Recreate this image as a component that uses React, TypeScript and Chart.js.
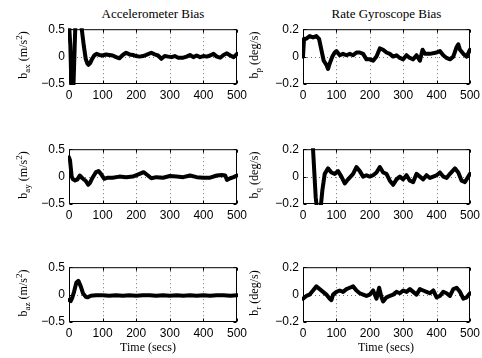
import React, { useEffect, useRef } from "react";
import { Chart, registerables } from "chart.js";

Chart.register(...registerables);

// ---- tick values ----
const xTickValues = [0, 100, 200, 300, 400, 500];
const accelTickValues = [-0.5, 0, 0.5];
const gyroTickValues = [-0.2, 0, 0.2];

// ---- text ----
const accelTitle = "Accelerometer Bias";
const gyroTitle = "Rate Gyroscope Bias";
const xAxisLabel = "Time (secs)";

// ---- accelerometer bias b_ax ----
const axTime = [0, 4, 7, 10, 14, 18, 21, 30, 36, 40, 44, 50, 55, 58, 63, 68, 75, 82, 90, 100, 110, 120, 130, 140, 150, 160, 170, 180, 190, 200, 210, 220, 230, 245, 255, 265, 275, 285, 295, 305, 315, 325, 340, 350, 360, 370, 380, 390, 400, 410, 420, 430, 440, 450, 460, 470, 480, 490, 500];
const axBias = [0.6, 0.2, -0.5, -1.0, -0.4, 0.4, 1.0, 1.2, 0.6, 0.4, 0.2, -0.05, -0.13, -0.15, -0.12, -0.05, 0.02, 0.05, 0.03, 0.02, 0.04, 0.03, 0.02, -0.01, -0.03, 0.03, 0.07, 0.04, 0.03, 0.01, 0.0, 0.01, 0.03, 0.07, 0.04, 0.02, -0.04, 0.01, 0.0, -0.01, 0.01, -0.02, -0.02, 0.0, 0.03, -0.01, 0.02, -0.01, 0.01, 0.0, 0.02, 0.05, 0.0, -0.02, 0.03, 0.06, 0.02, -0.01, 0.05];

// ---- accelerometer bias b_ay ----
const ayTime = [0, 3, 8, 12, 18, 25, 32, 40, 50, 57, 62, 70, 80, 88, 95, 105, 115, 130, 150, 170, 190, 210, 222, 235, 245, 260, 280, 300, 320, 340, 360, 380, 400, 420, 440, 455, 465, 470, 480, 490, 500];
const ayBias = [0.35, 0.3, 0.0, -0.05, -0.07, -0.05, 0.02, -0.03, -0.08, -0.15, -0.12, -0.02, 0.08, 0.1, 0.05, -0.04, -0.02, -0.02, 0.0, -0.01, 0.0, 0.05, 0.08, 0.02, -0.03, -0.01, -0.02, 0.01, 0.0, -0.01, 0.02, -0.01, -0.02, -0.02, 0.02, 0.03, 0.02, -0.06, -0.03, -0.01, 0.02];

// ---- accelerometer bias b_az ----
const azTime = [0, 5, 10, 15, 22, 28, 35, 42, 50, 55, 65, 80, 100, 120, 140, 160, 180, 200, 220, 240, 260, 280, 300, 320, 340, 360, 380, 400, 420, 440, 460, 480, 500];
const azBias = [-0.1, -0.12, -0.05, 0.05, 0.22, 0.25, 0.15, 0.02, -0.04, -0.05, -0.02, -0.01, -0.01, -0.02, -0.01, -0.02, -0.01, -0.02, -0.01, -0.01, -0.02, -0.01, -0.02, -0.01, -0.02, -0.01, -0.02, -0.01, -0.02, -0.01, -0.01, -0.02, -0.01];

// ---- rate gyroscope bias b_p ----
const bpTime = [0, 3, 10, 20, 30, 40, 48, 55, 62, 70, 75, 80, 88, 95, 100, 110, 120, 130, 140, 150, 160, 170, 180, 190, 200, 210, 220, 230, 240, 250, 260, 270, 280, 290, 300, 310, 320, 330, 340, 350, 358, 365, 380, 400, 410, 420, 430, 440, 450, 460, 465, 470, 480, 490, 500];
const bpBias = [0.0, 0.13, 0.13, 0.15, 0.14, 0.15, 0.13, 0.05, -0.03, -0.06, -0.09, -0.05, 0.0, 0.03, 0.04, 0.01, 0.02, 0.01, 0.02, 0.01, 0.03, 0.03, 0.02, -0.02, -0.02, -0.03, 0.0, 0.06, 0.05, 0.03, 0.02, 0.0, 0.01, -0.01, -0.02, 0.01, -0.01, -0.02, 0.01, -0.03, 0.05, 0.02, 0.02, 0.03, 0.04, 0.01, -0.01, -0.02, 0.0, 0.07, 0.09, 0.05, 0.02, 0.0, 0.05];

// ---- rate gyroscope bias b_q ----
const bqTime = [0, 20, 30, 38, 45, 52, 58, 65, 75, 85, 95, 105, 115, 125, 135, 150, 160, 170, 180, 190, 200, 210, 220, 230, 240, 250, 260, 270, 280, 290, 300, 310, 320, 330, 340, 350, 360, 370, 380, 390, 400, 410, 420, 430, 440, 455, 465, 475, 485, 495, 500];
const bqBias = [0.8, 0.5, 0.2, -0.15, -0.3, -0.25, -0.1, 0.02, 0.06, 0.03, 0.02, 0.04, 0.0, -0.05, -0.02, 0.02, 0.07, 0.04, 0.0, 0.01, 0.0, 0.01, 0.03, 0.07, 0.03, 0.02, -0.03, -0.06, -0.02, 0.0, -0.02, 0.01, -0.03, -0.04, 0.02, 0.0, -0.02, 0.01, -0.01, 0.0, 0.01, 0.03, 0.0, -0.01, 0.02, 0.06, 0.03, -0.03, -0.04, 0.0, 0.02];

// ---- rate gyroscope bias b_r ----
const brTime = [0, 10, 20, 30, 40, 50, 60, 70, 80, 85, 90, 100, 110, 120, 130, 140, 150, 160, 170, 180, 190, 200, 210, 220, 228, 235, 240, 250, 260, 270, 280, 290, 300, 310, 320, 330, 340, 350, 360, 370, 380, 390, 400, 410, 420, 430, 440, 450, 460, 470, 480, 490, 500];
const brBias = [-0.03, -0.01, 0.0, 0.03, 0.06, 0.04, 0.02, 0.0, -0.03, -0.04, 0.0, 0.02, 0.03, 0.02, 0.04, 0.05, 0.06, 0.03, 0.01, 0.0, -0.01, 0.0, 0.03, -0.03, 0.05, -0.02, -0.05, -0.02, -0.01, 0.0, 0.02, 0.01, 0.03, 0.02, 0.04, 0.02, 0.0, 0.04, 0.03, 0.02, 0.01, 0.03, -0.02, -0.01, 0.02, 0.01, -0.01, 0.04, 0.05, 0.02, -0.03, -0.02, 0.01];

// ---- layout constants ----
const COL_X = [[69, 237], [303, 470]];
const ROW_Y = [[26, 84], [146, 204], [264, 322]];
const PAD_T = 8;
const PAD_R = 14;
const Y_W = 40;
const X_H = 24;

const tickFont = { family: "'Liberation Sans', Arial, sans-serif", size: 12 };
const serif = "'Liberation Serif', 'Times New Roman', serif";

function fmt(v: number) {
  if (v === 0) return "0";
  if (v < 0) return "\u2212" + String(Math.abs(v));
  return String(v);
}

const framePlugin = {
  id: "matlabFrame",
  beforeDatasetsDraw(chart: any) {
    const { ctx, chartArea: a, scales } = chart;
    ctx.save();
    ctx.strokeStyle = "#777";
    ctx.lineWidth = 1;
    ctx.setLineDash([1, 3]);
    const xs = scales.x, ys = scales.y;
    xTickValues.forEach((v) => {
      if (v === xs.min || v === xs.max) return;
      const px = Math.round(xs.getPixelForValue(v)) + 0.5;
      ctx.beginPath();
      ctx.moveTo(px, a.top);
      ctx.lineTo(px, a.bottom);
      ctx.stroke();
    });
    ys.ticks.forEach((t: any) => {
      if (t.value === ys.min || t.value === ys.max) return;
      const py = Math.round(ys.getPixelForValue(t.value)) + 0.5;
      ctx.beginPath();
      ctx.moveTo(a.left, py);
      ctx.lineTo(a.right, py);
      ctx.stroke();
    });
    ctx.restore();
  },
  afterDatasetsDraw(chart: any) {
    const { ctx, chartArea: a, scales } = chart;
    ctx.save();
    ctx.strokeStyle = "#000";
    ctx.lineWidth = 1;
    ctx.setLineDash([]);
    const l = a.left + 0.5, r = a.right - 0.5, t = a.top + 0.5, b = a.bottom - 0.5;
    ctx.strokeRect(l, t, r - l, b - t);
    const xs = scales.x, ys = scales.y;
    const len = 3;
    ctx.beginPath();
    xTickValues.forEach((v) => {
      const px = Math.round(xs.getPixelForValue(v)) + 0.5;
      ctx.moveTo(px, b);
      ctx.lineTo(px, b - len);
      ctx.moveTo(px, t);
      ctx.lineTo(px, t + len);
    });
    ys.ticks.forEach((tk: any) => {
      const py = Math.round(ys.getPixelForValue(tk.value)) + 0.5;
      ctx.moveTo(l, py);
      ctx.lineTo(l + len, py);
      ctx.moveTo(r, py);
      ctx.lineTo(r - len, py);
    });
    ctx.stroke();
    ctx.restore();
  },
};

type PlotProps = {
  time: number[];
  values: number[];
  yTicks: number[];
  col: number;
  row: number;
};

function Plot({ time, values, yTicks, col, row }: PlotProps) {
  const ref = useRef<HTMLCanvasElement | null>(null);
  const [x0, x1] = COL_X[col];
  const [y0, y1] = ROW_Y[row];
  const w = x1 - x0;
  const h = y1 - y0;
  const cw = Y_W + w + PAD_R;
  const ch = PAD_T + h + X_H;

  useEffect(() => {
    if (!ref.current) return;
    const chart = new Chart(ref.current, {
      type: "line",
      data: {
        datasets: [
          {
            data: time.map((t, i) => ({ x: t, y: values[i] })),
            borderColor: "#000",
            borderWidth: 4,
            pointRadius: 0,
            tension: 0,
            fill: false,
            clip: 1,
            borderJoinStyle: "round",
            borderCapStyle: "round",
          } as any,
        ],
      },
      options: {
        responsive: false,
        animation: false,
        devicePixelRatio: 1,
        layout: { padding: { top: PAD_T, right: PAD_R, left: 0, bottom: 0 } },
        plugins: { legend: { display: false }, tooltip: { enabled: false }, title: { display: false } },
        scales: {
          x: {
            type: "linear",
            min: 0,
            max: 500,
            afterBuildTicks: (s: any) => {
              s.ticks = xTickValues.map((v) => ({ value: v }));
            },
            afterFit: (s: any) => {
              s.height = X_H;
            },
            grid: { display: false, drawTicks: false },
            border: { display: false },
            ticks: { font: tickFont, color: "#000", padding: 4, maxRotation: 0, autoSkip: false, callback: (v: any) => fmt(Number(v)) },
          },
          y: {
            type: "linear",
            min: yTicks[0],
            max: yTicks[yTicks.length - 1],
            afterBuildTicks: (s: any) => {
              s.ticks = yTicks.map((v) => ({ value: v }));
            },
            afterFit: (s: any) => {
              s.width = Y_W;
            },
            grid: { display: false, drawTicks: false },
            border: { display: false },
            ticks: { font: tickFont, color: "#000", padding: 4, autoSkip: false, callback: (v: any) => fmt(Number(v)) },
          },
        },
      } as any,
      plugins: [framePlugin],
    });
    return () => chart.destroy();
  }, []);

  return (
    <canvas
      ref={ref}
      width={cw}
      height={ch}
      style={{ position: "absolute", left: x0 - Y_W, top: y0 - PAD_T, width: cw, height: ch }}
    />
  );
}

function YLabel({ x, y, main, sub }: { x: number; y: number; main: string; sub: string; }) {
  return (
    <div
      style={{
        position: "absolute",
        left: x,
        top: y,
        transform: "translate(-50%, -50%) rotate(-90deg)",
        fontFamily: serif,
        fontSize: 12,
        lineHeight: "14px",
        whiteSpace: "nowrap",
        color: "#000",
      }}
    >
      b<sub style={{ fontSize: 9 }}>{sub}</sub> {main === "accel" ? (<span>(m/s<sup style={{ fontSize: 9 }}>2</sup>)</span>) : (<span>(deg/s)</span>)}
    </div>
  );
}

function Text({ x, y, text, size }: { x: number; y: number; text: string; size: number }) {
  return (
    <div
      style={{
        position: "absolute",
        left: x,
        top: y,
        transform: "translate(-50%, -50%)",
        fontFamily: serif,
        fontSize: size,
        lineHeight: 1,
        whiteSpace: "nowrap",
        color: "#000",
      }}
    >
      {text}
    </div>
  );
}

export default function App() {
  const midY = (r: number) => (ROW_Y[r][0] + ROW_Y[r][1]) / 2;
  return (
    <div style={{ position: "fixed", left: 0, top: 0, width: 482, height: 358, background: "#fff", overflow: "hidden" }}>
      <Text x={153} y={13} text={accelTitle} size={13} />
      <Text x={386.5} y={13} text={gyroTitle} size={13} />

      <Plot time={axTime} values={axBias} yTicks={accelTickValues} col={0} row={0} />
      <Plot time={ayTime} values={ayBias} yTicks={accelTickValues} col={0} row={1} />
      <Plot time={azTime} values={azBias} yTicks={accelTickValues} col={0} row={2} />
      <Plot time={bpTime} values={bpBias} yTicks={gyroTickValues} col={1} row={0} />
      <Plot time={bqTime} values={bqBias} yTicks={gyroTickValues} col={1} row={1} />
      <Plot time={brTime} values={brBias} yTicks={gyroTickValues} col={1} row={2} />

      <YLabel x={23} y={midY(0)} main="accel" sub="ax" />
      <YLabel x={23} y={midY(1)} main="accel" sub="ay" />
      <YLabel x={23} y={midY(2)} main="accel" sub="az" />
      <YLabel x={256} y={midY(0)} main="gyro" sub="p" />
      <YLabel x={256} y={midY(1)} main="gyro" sub="q" />
      <YLabel x={256} y={midY(2)} main="gyro" sub="r" />

      <Text x={148} y={347} text={xAxisLabel} size={12} />
      <Text x={386} y={347} text={xAxisLabel} size={12} />
    </div>
  );
}
